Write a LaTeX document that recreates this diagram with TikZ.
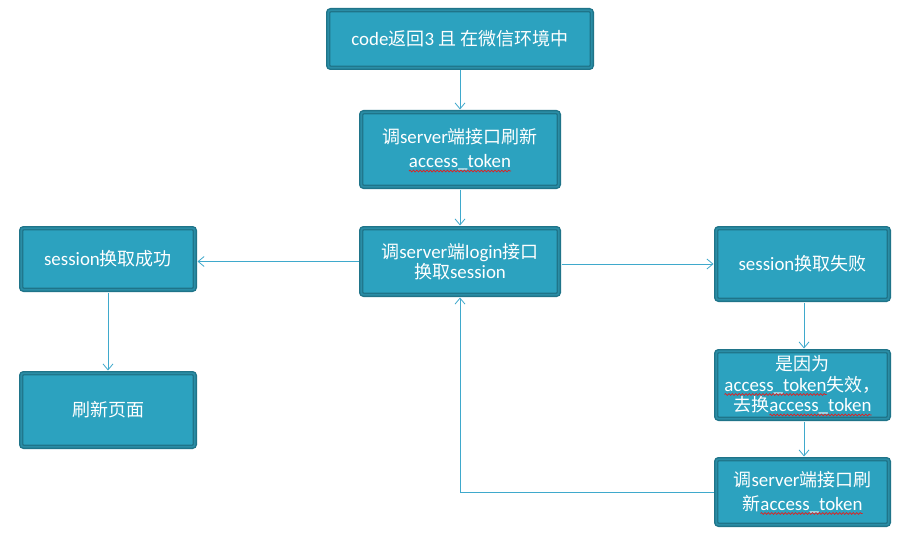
\documentclass[tikz,border=0pt]{standalone}
\usepackage{fontspec}
\setmainfont{Carlito}[Scale=1.05]
\newfontfamily\cjk{Noto Sans CJK SC}
\usetikzlibrary{arrows.meta,decorations.pathmorphing}

\definecolor{boxfill}{HTML}{2CA2BF}
\definecolor{boxdark}{HTML}{1F7489}
\definecolor{boxmid}{HTML}{2A8DA6}
\definecolor{linkblue}{HTML}{3FA9CC}
\definecolor{squig}{HTML}{E02020}

% Chinese runs are set in the CJK family, everything else in Carlito
\newcommand\zh[1]{{\cjk #1}}
% word with a red wavy underline, as a spell checker would draw it
\newcommand\spell[1]{\tikz[baseline=(w.base)]{%
  \node[inner sep=0pt, outer sep=0pt, minimum width=0pt, minimum height=0pt,
        anchor=base, text=white] (w) {#1};
  \draw[overlay, draw=squig, line width=0.7pt, sharp corners,
        decorate, decoration={snake, amplitude=0.9pt, segment length=3.4pt}]
    ([yshift=-3.2pt]w.base west) -- ([yshift=-3.2pt]w.base east);}}

\tikzset{
  flowbox/.style={draw=boxdark, line width=1.4pt, double=boxmid, double distance=1.6pt,
    fill=boxfill, rounded corners=2.5pt, text=white, align=center, inner sep=0pt,
    font=\fontsize{18}{24}\selectfont},
  tight/.style={font=\fontsize{18}{20.5}\selectfont},
  flowlink/.style={draw=linkblue, line width=0.9pt, shorten >=2pt, shorten <=2pt,
    -{Straight Barb[length=6pt,width=10pt,line width=0.8pt]}}
}

\begin{document}
\begin{tikzpicture}[x=1pt,y=-1pt]
\useasboundingbox[fill=white] (0,0) rectangle (912,559);

\node[flowbox, minimum width=263.6pt, minimum height=57.6pt] (start) at (460,39)
  {code\zh{返回}3 \zh{且} \zh{在微信环境中}};
\node[flowbox, minimum width=197.6pt, minimum height=74.6pt] (refresh) at (460,149.5)
  {\zh{调}server\zh{端接口刷新}\\\spell{access\_token}};
\node[flowbox, tight, minimum width=197.6pt, minimum height=66.6pt] (login) at (460,261.5)
  {\zh{调}server\zh{端}login\zh{接口}\\\zh{换取}session};
\node[flowbox, minimum width=173.6pt, minimum height=61.6pt] (ok) at (108,259)
  {session\zh{换取成功}};
\node[flowbox, minimum width=173.6pt, minimum height=73.6pt] (reload) at (108,410)
  {\zh{刷新页面}};
\node[flowbox, minimum width=172.6pt, minimum height=71.6pt] (fail) at (802.5,264)
  {session\zh{换取失败}};
\node[flowbox, tight, minimum width=172.6pt, minimum height=67.6pt] (expired) at (802.5,385)
  {\zh{是因为}\\\spell{access\_token}\zh{失效，}\\\zh{去换}\spell{access\_token}};
\node[flowbox, minimum width=172.6pt, minimum height=65.6pt] (retry) at (802.5,492)
  {\zh{调}server\zh{端接口刷}\\\zh{新}\spell{access\_token}};

\coordinate (col) at (804,0);
\draw[flowlink] (start) -- (refresh);
\draw[flowlink] (refresh) -- (login);
\draw[flowlink] (login.west) -- (login.west -| ok.east);
\draw[flowlink] (fail.west -| login.east) -- (fail.west);
\draw[flowlink] (ok) -- (reload);
\draw[flowlink] (fail.south -| col) -- (expired.north -| col);
\draw[flowlink] (expired.south -| col) -- (retry.north -| col);
\draw[flowlink] (retry.west) -- (retry.west -| login.south) -- (login.south);
\end{tikzpicture}
\end{document}
